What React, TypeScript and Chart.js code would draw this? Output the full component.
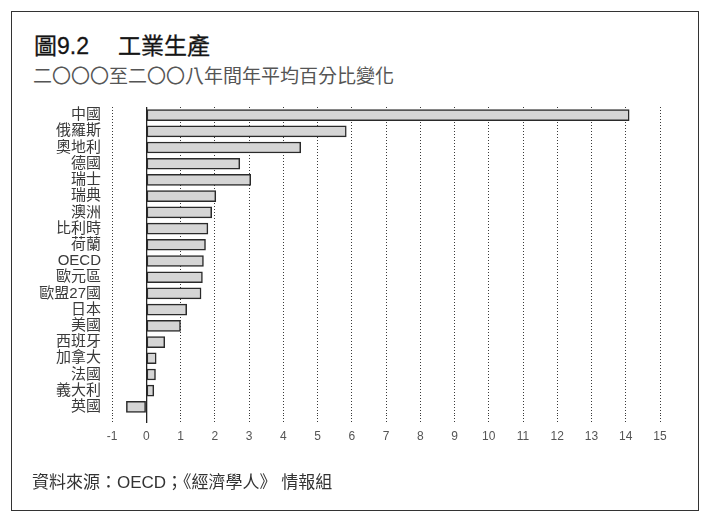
import React, { useEffect, useRef } from "react";
import { Chart, registerables } from "chart.js";

Chart.register(...registerables);

const categories: string[] = [
  "中國", "俄羅斯", "奧地利", "德國", "瑞士", "瑞典", "澳洲", "比利時", "荷蘭", "OECD",
  "歐元區", "歐盟27國", "日本", "美國", "西班牙", "加拿大", "法國", "義大利", "英國",
];
const values: number[] = [
  14.1, 5.84, 4.51, 2.73, 3.05, 2.03, 1.91, 1.8, 1.73, 1.67,
  1.64, 1.6, 1.18, 1.0, 0.54, 0.29, 0.27, 0.22, -0.58,
];
const xMin = -1;
const xMax = 15;

const titleLabel = "圖9.2";
const titleText = "工業生產";
const subtitleText = "二〇〇〇至二〇〇八年間年平均百分比變化";
const sourceText = "資料來源：OECD；《經濟學人》 情報組";

const FONT = "'Liberation Sans', 'Noto Sans CJK TC', sans-serif";

export default function App() {
  const ref = useRef<HTMLCanvasElement | null>(null);

  useEffect(() => {
    document.body.style.margin = "0";
    const canvas = ref.current;
    if (!canvas) return;
    const isZero = (ctx: any) => ctx.tick && ctx.tick.value === 0;
    const chart = new Chart(canvas, {
      type: "bar",
      data: {
        labels: categories,
        datasets: [
          {
            data: values,
            backgroundColor: "#d5d5d5",
            borderColor: "#2a2a2a",
            borderWidth: 1.5,
            borderSkipped: false,
            barThickness: 11,
          },
        ],
      },
      options: {
        indexAxis: "y",
        animation: false,
        responsive: false,
        devicePixelRatio: 1,
        layout: { padding: { left: 0, top: 107, right: 54, bottom: 86 } },
        plugins: {
          legend: { display: false },
          tooltip: { enabled: false },
          title: { display: false },
        },
        scales: {
          x: {
            type: "linear",
            min: xMin,
            max: xMax,
            afterFit: (axis: any) => {
              axis.height = 30;
            },
            ticks: {
              stepSize: 1,
              color: "#555",
              font: { family: FONT, size: 12 },
              padding: 6,
            },
            grid: {
              drawTicks: true,
              tickLength: 8,
              color: (ctx: any) => (isZero(ctx) ? "#222" : "#3a3a3a"),
              lineWidth: (ctx: any) => (isZero(ctx) ? 1.3 : 1),
              tickBorderDash: (ctx: any) => (isZero(ctx) ? [] : [1, 2]),
            },
            border: {
              display: false,
              dash: (ctx: any) => (isZero(ctx) ? [] : [1, 2]),
            },
          },
          y: {
            type: "category",
            afterFit: (axis: any) => {
              axis.width = 112;
            },
            ticks: {
              autoSkip: false,
              color: "#3a3a3a",
              font: { family: FONT, size: 15 },
              padding: 3,
            },
            grid: { display: false },
            border: { display: false },
          },
        },
      },
    } as any);
    return () => chart.destroy();
  }, []);

  const titleStyle: React.CSSProperties = {
    position: "absolute",
    top: 35,
    fontFamily: FONT,
    fontSize: 23,
    lineHeight: "23px",
    color: "#151515",
    fontWeight: 400,
    WebkitTextStroke: "0.3px #151515",
    whiteSpace: "nowrap",
  };

  return (
    <div
      style={{
        position: "fixed",
        left: 0,
        top: 0,
        width: 714,
        height: 531,
        background: "#fff",
        overflow: "hidden",
      }}
    >
      <div
        style={{
          position: "absolute",
          left: 11,
          top: 11,
          width: 688,
          height: 500,
          border: "1.5px solid #333",
          boxSizing: "border-box",
        }}
      />
      <div style={{ ...titleStyle, left: 34 }}>{titleLabel}</div>
      <div style={{ ...titleStyle, left: 118 }}>{titleText}</div>
      <div
        style={{
          position: "absolute",
          left: 33,
          top: 67,
          fontFamily: FONT,
          fontSize: 19,
          lineHeight: "19px",
          color: "#555",
          whiteSpace: "nowrap",
        }}
      >
        {subtitleText}
      </div>
      <canvas
        ref={ref}
        width={714}
        height={531}
        style={{ position: "absolute", left: 0, top: 0 }}
      />
      <div
        style={{
          position: "absolute",
          left: 32,
          top: 474,
          fontFamily: FONT,
          fontSize: 17,
          lineHeight: "17px",
          color: "#333",
          whiteSpace: "nowrap",
        }}
      >
        {sourceText}
      </div>
    </div>
  );
}
